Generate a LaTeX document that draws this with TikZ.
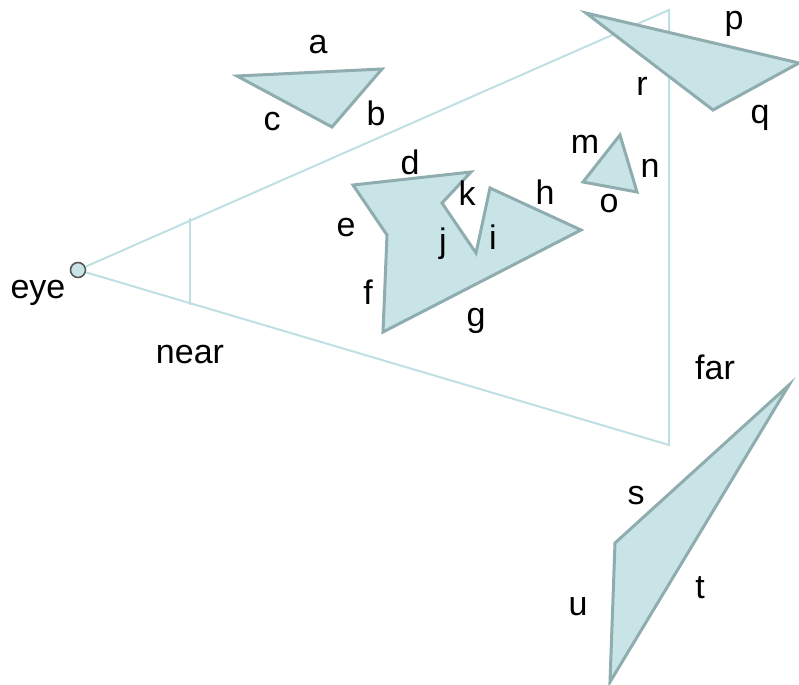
\documentclass[tikz,border=0pt]{standalone}
\usepackage{fontspec}
\setmainfont{Liberation Sans}
\definecolor{shfill}{HTML}{C8E4E6}
\definecolor{shdraw}{HTML}{8FADAF}
\definecolor{fline}{HTML}{BFE0E3}
\begin{document}
\begin{tikzpicture}[x=0.5pt,y=-0.5pt,
  polyshape/.style={fill=shfill,draw=shdraw,line width=1.5pt,line join=miter},
  frus/.style={draw=fline,line width=1pt},
  lbl/.style={font=\fontsize{17}{20}\selectfont,inner sep=0pt}]
\useasboundingbox (0,0) rectangle (799,685);
% frustum
\node[circle,fill=shfill,draw=black!65,line width=0.8pt,minimum size=7.5pt,inner sep=0pt] (eye) at (78,270) {};
\coordinate (ft) at (669,10);
\coordinate (fb) at (669,445);
\coordinate (nt) at (190,218);
\coordinate (nb) at (190,305);
\draw[frus] (eye) -- (ft) -- (fb) -- (eye);
\draw[frus] (nt) -- (nb);
% shapes
\path[polyshape] (237,76) -- (382,69) -- (332,127) -- cycle;
\path[polyshape] (353,185) -- (471,172) -- (442,203) -- (476,253) -- (490,188) -- (581,230) -- (383,332) -- (387,235) -- cycle;
\path[polyshape] (620,135) -- (583,182) -- (637,192) -- cycle;
\path[polyshape] (586,13) -- (799,63) -- (713,110) -- cycle;
\path[polyshape] (789,385) -- (615,543) -- (610,682) -- cycle;
% labels
\node[lbl] (la) at (318,45) {a};
\node[lbl] (lb) at (376,113) {b};
\node[lbl] (lc) at (272,122) {c};
\node[lbl] (ld) at (410,162) {d};
\node[lbl] (le) at (346,228) {e};
\node[lbl] (lf) at (368,292) {f};
\node[lbl] (lg) at (476,321) {g};
\node[lbl] (lh) at (545,192) {h};
\node[lbl] (li) at (493,237) {i};
\node[lbl] (lj) at (443,244) {j};
\node[lbl] (lk) at (467,193) {k};
\node[lbl] (lm) at (585,144) {m};
\node[lbl] (ln) at (650,168) {n};
\node[lbl] (lo) at (609,204) {o};
\node[lbl] (lp) at (734,24) {p};
\node[lbl] (lq) at (760,118) {q};
\node[lbl] (lr) at (642,86) {r};
\node[lbl] (ls) at (636,496) {s};
\node[lbl] (lt) at (700,588) {t};
\node[lbl] (lu) at (578,607) {u};
\node[lbl] (leye) at (38,293) {eye};
\node[lbl] (lnear) at (190,355) {near};
\node[lbl] (lfar) at (715,367) {far};
\end{tikzpicture}
\end{document}
